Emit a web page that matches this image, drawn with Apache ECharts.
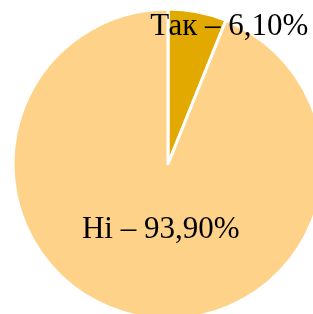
<!DOCTYPE html>
<html>
<head>
<meta charset="utf-8">
<script src="https://cdn.jsdelivr.net/npm/echarts@6/dist/echarts.min.js"></script>
<style>
  html, body { margin: 0; padding: 0; background: #fff; }
  #chart { width: 313px; height: 314px; }
</style>
</head>
<body>
<div id="chart"></div>
<script>
const categories = ['Так', 'Ні'];
const values = [6.10, 93.90];
const colors = ['#E2AA00', '#FFD28A'];
// label offsets from the default inside position
const labelOffsets = [[46, -58], [8, -13]];

const chart = echarts.init(document.getElementById('chart'));

const seriesData = categories.map((name, i) => {
    return {
        name: name,
        value: values[i],
        itemStyle: { color: colors[i] },
        label: { offset: labelOffsets[i] }
    }
});

chart.setOption({
    animation: false,
    series: [{
        type: 'pie',
        center: [168, 164],
        radius: 155,
        startAngle: 90,
        clockwise: true,
        itemStyle: {
            borderColor: '#fff',
            borderWidth: 3
        },
        label: {
            show: true,
            position: 'inside',
            fontFamily: 'Liberation Serif',
            fontSize: 31,
            color: '#000',
            formatter: p => p.name + ' – ' + p.value.toFixed(2).replace('.', ',') + '%'
        },
        labelLine: { show: false },
        data: seriesData
    }]
});
</script>
</body>
</html>
